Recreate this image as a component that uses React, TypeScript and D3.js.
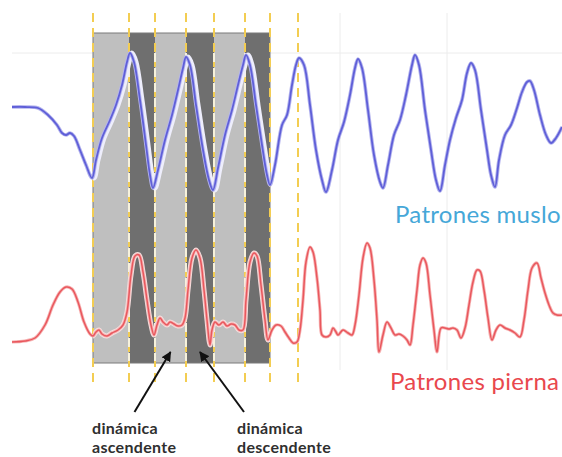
import React from 'react';
import * as d3 from 'd3';

// time in seconds, thigh signal (muslo) and leg signal (pierna), arbitrary units
const thighT = [0.00, 0.13, 0.26, 0.36, 0.45, 0.50, 0.54, 0.58, 0.62, 0.68, 0.74, 0.80, 0.84, 0.90, 0.98, 1.04, 1.10, 1.15, 1.18, 1.22, 1.28, 1.34, 1.38, 1.41, 1.46, 1.53, 1.60, 1.66, 1.71, 1.74, 1.78, 1.84, 1.91, 1.97, 2.01, 2.06, 2.13, 2.20, 2.26, 2.31, 2.34, 2.38, 2.44, 2.50, 2.55, 2.58, 2.63, 2.70, 2.75, 2.80, 2.84, 2.87, 2.92, 2.98, 3.04, 3.10, 3.14, 3.20, 3.26, 3.32, 3.38, 3.43, 3.46, 3.50, 3.56, 3.62, 3.68, 3.71, 3.76, 3.82, 3.88, 3.94, 4.00, 4.03, 4.07, 4.13, 4.19, 4.24, 4.28, 4.33, 4.38, 4.44, 4.50, 4.55, 4.59, 4.63, 4.69, 4.75, 4.79, 4.83, 4.87, 4.93, 4.99, 5.05, 5.10, 5.15, 5.18, 5.22, 5.28, 5.34, 5.39, 5.44, 5.50];
const thighV = [93, 93, 92, 85, 75, 67, 65, 67, 64, 50, 35, 22, 40, 62, 80, 95, 115, 138, 147, 138, 100, 55, 25, 12, 30, 60, 85, 110, 132, 143, 135, 95, 50, 20, 10, 32, 65, 90, 115, 135, 145, 135, 95, 55, 25, 15, 35, 75, 85, 115, 135, 142, 135, 95, 50, 20, 8, 30, 60, 78, 105, 132, 141, 132, 90, 45, 18, 12, 35, 65, 80, 105, 135, 145, 135, 90, 50, 20, 9, 35, 60, 82, 100, 127, 137, 130, 90, 50, 25, 13, 40, 65, 75, 92, 108, 118, 119, 110, 85, 65, 57, 62, 73];

const legT = [0.00, 0.13, 0.23, 0.33, 0.41, 0.48, 0.54, 0.60, 0.66, 0.72, 0.78, 0.81, 0.84, 0.87, 0.90, 0.95, 1.00, 1.06, 1.11, 1.15, 1.19, 1.23, 1.27, 1.31, 1.35, 1.39, 1.42, 1.45, 1.48, 1.51, 1.55, 1.58, 1.62, 1.66, 1.70, 1.73, 1.76, 1.80, 1.84, 1.88, 1.92, 1.95, 1.98, 2.00, 2.03, 2.07, 2.11, 2.15, 2.19, 2.23, 2.27, 2.31, 2.34, 2.38, 2.42, 2.45, 2.49, 2.53, 2.56, 2.60, 2.64, 2.69, 2.73, 2.77, 2.81, 2.85, 2.88, 2.91, 2.94, 2.98, 3.01, 3.05, 3.08, 3.10, 3.14, 3.18, 3.21, 3.24, 3.26, 3.31, 3.36, 3.40, 3.43, 3.47, 3.51, 3.55, 3.58, 3.62, 3.65, 3.67, 3.71, 3.75, 3.79, 3.83, 3.87, 3.91, 3.95, 3.98, 4.01, 4.05, 4.08, 4.11, 4.14, 4.18, 4.22, 4.25, 4.29, 4.33, 4.37, 4.41, 4.45, 4.49, 4.53, 4.57, 4.61, 4.65, 4.68, 4.72, 4.76, 4.80, 4.84, 4.88, 4.93, 4.98, 5.03, 5.08, 5.12, 5.16, 5.20, 5.25, 5.29, 5.33, 5.37, 5.41, 5.45, 5.50];
const legV = [18, 19, 22, 35, 55, 68, 73, 71, 58, 38, 26, 24, 28, 30, 26, 24, 27, 30, 35, 48, 85, 104, 105, 88, 60, 35, 25, 35, 42, 38, 35, 38, 36, 34, 35, 42, 70, 102, 110, 102, 70, 40, 15, 30, 38, 35, 38, 34, 36, 35, 30, 30, 60, 98, 107, 104, 75, 40, 20, 30, 35, 34, 28, 22, 17, 18, 30, 60, 98, 113, 108, 82, 50, 25, 23, 25, 32, 28, 25, 30, 27, 25, 35, 65, 102, 117, 112, 80, 40, 8, 25, 38, 32, 25, 26, 24, 20, 15, 35, 70, 95, 102, 97, 65, 30, 8, 32, 32, 31, 32, 30, 22, 32, 55, 78, 90, 89, 70, 42, 20, 30, 35, 32, 30, 27, 23, 40, 70, 92, 97, 82, 67, 55, 47, 45, 45];

// gait phase boundaries (s): ascending / descending alternate
const phaseT = [0.81, 1.17, 1.43, 1.74, 2.02, 2.33, 2.58];
const phaseKind = ['asc', 'desc', 'asc', 'desc', 'asc', 'desc'];
const markerT = [0.81, 1.17, 1.43, 1.74, 2.02, 2.33, 2.58, 2.86];
const gridT = [3.28, 4.35];
const gridThigh = [147];

const seriesLabels = ['Patrones muslo', 'Patrones pierna'];
const arrowPhase = [2, 3];
const arrowText = [['dinámica', 'ascendente'], ['dinámica', 'descendente']];

const W = 562;
const H = 457;
const boxTop = 33;
const boxBottom = 363;
const dashTop = 13;
const dashBottom = 386;

const App = () => {
  const x = d3.scaleLinear().domain([0, 5.5]).range([12, 562]);
  const yThigh = d3.scaleLinear().domain([0, 150]).range([200, 50]);
  const yLeg = d3.scaleLinear().domain([0, 120]).range([360, 240]);

  const thigh = thighT.map((t, i) => [t, thighV[i]]);
  const leg = legT.map((t, i) => [t, legV[i]]);

  const thighLine = d3.line<number[]>()
    .x(d => x(d[0]))
    .y(d => yThigh(d[1]))
    .curve(d3.curveCatmullRom.alpha(0.5));
  const legLine = d3.line<number[]>()
    .x(d => x(d[0]))
    .y(d => yLeg(d[1]))
    .curve(d3.curveCatmullRom.alpha(0.5));

  const x0 = x(phaseT[0]);
  const x1 = x(phaseT[phaseT.length - 1]);

  const tipY = 352;
  const tailY = 412;

  return (
    <svg
      width={W}
      height={H}
      style={{ position: 'absolute', left: 0, top: 0, display: 'block', background: '#fff' }}
      fontFamily="Lato, 'Open Sans', sans-serif"
    >
      <defs>
        <clipPath id="boxClip">
          <rect x={x0} y={boxTop} width={x1 - x0} height={boxBottom - boxTop} />
        </clipPath>
        <marker id="arrowHead" viewBox="0 0 10 10" refX="9" refY="5" markerWidth="5" markerHeight="5" orient="auto">
          <path d="M0,0 L10,5 L0,10 z" fill="#111" />
        </marker>
      </defs>

      {/* faint grid */}
      {gridThigh.map((v, i) => (
        <line key={'gh' + i} x1={12} x2={W} y1={yThigh(v)} y2={yThigh(v)} stroke="#ececec" strokeWidth={1} />
      ))}
      {gridT.map((t, i) => (
        <line key={'gv' + i} x1={x(t)} x2={x(t)} y1={dashTop} y2={370} stroke="#ececec" strokeWidth={1} />
      ))}

      {/* phase bands */}
      {phaseKind.map((k, i) => (
        <rect
          key={'b' + i}
          x={x(phaseT[i])}
          y={boxTop}
          width={x(phaseT[i + 1]) - x(phaseT[i])}
          height={boxBottom - boxTop}
          fill={k === 'asc' ? '#bfbfbf' : '#6f6f6f'}
        />
      ))}
      <rect x={x0} y={boxTop} width={x1 - x0} height={boxBottom - boxTop} fill="none" stroke="#7a7a7a" strokeWidth={1} />

      {/* yellow markers */}
      {markerT.map((t, i) => (
        <line key={'m' + i} x1={x(t)} x2={x(t)} y1={dashTop} y2={dashBottom}
          stroke="#f3cd52" strokeWidth={2} strokeDasharray="9,6" />
      ))}
      {phaseT.slice(1, -1).map((t, i) => (
        <line key={'mw' + i} x1={x(t)} x2={x(t)} y1={boxTop + 20} y2={boxBottom - 2}
          stroke="#f6f1dc" strokeWidth={2} strokeDasharray="9,6" />
      ))}

      {/* halos inside the marked cycles */}
      <g clipPath="url(#boxClip)">
        <path d={thighLine(thigh) || ''} fill="none" stroke="#eeeefc" strokeWidth={5} transform="translate(2,0)" />
        <path d={legLine(leg) || ''} fill="none" stroke="#f7dede" strokeWidth={5} />
      </g>

      {/* signals */}
      <path d={thighLine(thigh) || ''} fill="none" stroke="#b4b4ee" strokeWidth={3.6} />
      <path d={thighLine(thigh) || ''} fill="none" stroke="#5f5fd8" strokeWidth={1.8} />
      <path d={legLine(leg) || ''} fill="none" stroke="#f6b2b2" strokeWidth={3.2} />
      <path d={legLine(leg) || ''} fill="none" stroke="#e9575d" strokeWidth={1.5} />

      {/* series labels */}
      <text x={395} y={223} fontSize={24} letterSpacing={0.3} fill="#45a7d8">{seriesLabels[0]}</text>
      <text x={390} y={390} fontSize={24} letterSpacing={0.3} fill="#e9474d">{seriesLabels[1]}</text>

      {/* arrows and phase captions */}
      {arrowPhase.map((p, i) => {
        const tipX = x((phaseT[p] + phaseT[p + 1]) / 2);
        const tailX = i === 0 ? tipX - 36 : tipX + 44;
        const textX = i === 0 ? 92 : 237;
        return (
          <g key={'a' + i}>
            <line x1={tailX} y1={tailY} x2={tipX} y2={tipY} stroke="#111" strokeWidth={2} markerEnd="url(#arrowHead)" />
            {arrowText[i].map((s, j) => (
              <text key={j} x={textX} y={434 + j * 19} fontSize={16} fontWeight="bold" letterSpacing={0.3} fill="#2f2f2f">{s}</text>
            ))}
          </g>
        );
      })}
    </svg>
  );
};

export default App;
